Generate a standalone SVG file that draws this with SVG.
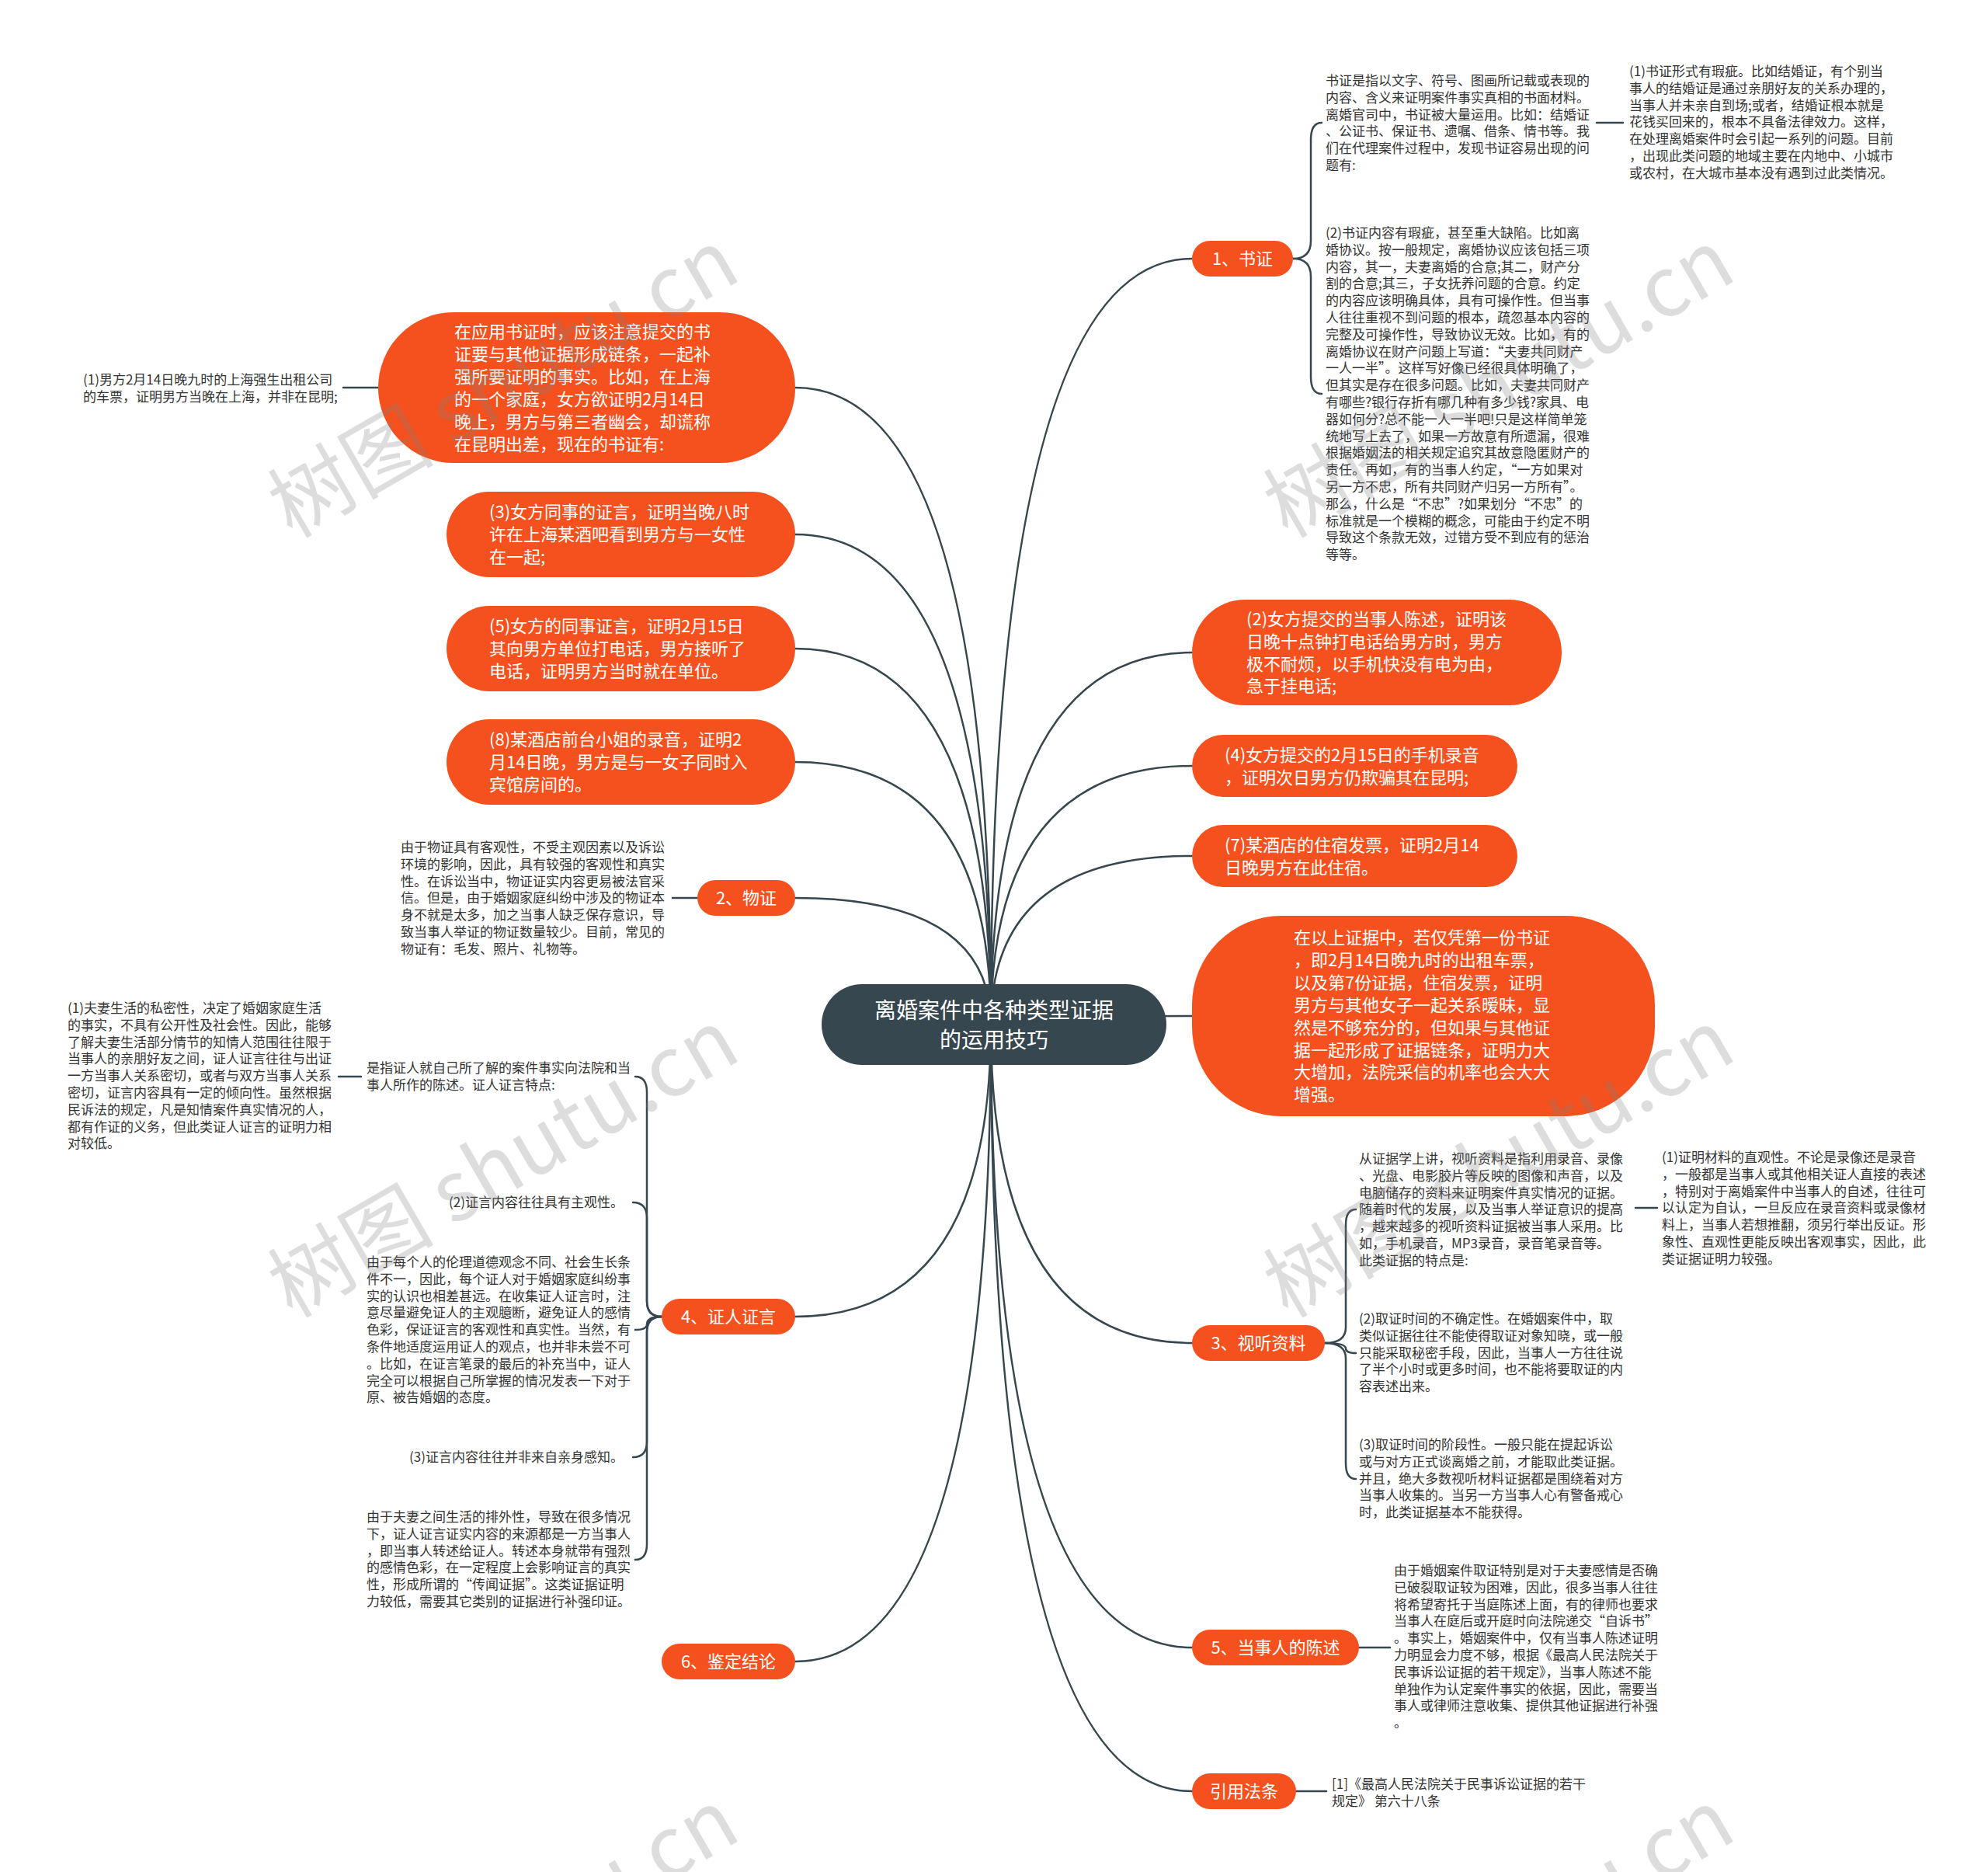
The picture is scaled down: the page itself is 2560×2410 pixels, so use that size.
<svg xmlns="http://www.w3.org/2000/svg" width="2560" height="2410" viewBox="0 0 2560 2410">
<defs>
<style>
.bg{fill:#ffffff}
.ln{fill:none;stroke:#37474f;stroke-width:2.5;stroke-linecap:round}
.nd{fill:#f4511e}
.ct{fill:#37474f}
.nt{font-family:"Noto Sans CJK SC","Noto Sans",sans-serif;font-size:22px;fill:#ffffff}
.ctt{font-family:"Noto Sans CJK SC","Noto Sans",sans-serif;font-size:28px;fill:#ffffff;text-anchor:middle}
.lt{font-family:"Noto Sans CJK SC","Noto Sans",sans-serif;font-size:17px;fill:#333333}
.wm{font-family:"Noto Sans CJK SC","Noto Sans",sans-serif;font-size:107px;fill:#808080;opacity:0.26}
.mid{text-anchor:middle}
.end{text-anchor:end}
</style>
</defs>
<rect class="bg" x="0" y="0" width="2560" height="2410"/>

<g id="connectors">
<path class="ln" d="M1276 1319 Q1276 333 1535 333"/>
<path class="ln" d="M1276 1319 Q1276 840 1535 840"/>
<path class="ln" d="M1276 1319 Q1276 986 1535 986"/>
<path class="ln" d="M1276 1319 Q1276 1102 1535 1102"/>
<path class="ln" d="M1276 1319 Q1276 1308 1535 1308"/>
<path class="ln" d="M1276 1319 Q1276 1729 1535 1729"/>
<path class="ln" d="M1276 1319 Q1276 2121 1535 2121"/>
<path class="ln" d="M1276 1319 Q1276 2306 1535 2306"/>
<path class="ln" d="M1276 1319 Q1276 499 1024 499"/>
<path class="ln" d="M1276 1319 Q1276 688 1024 688"/>
<path class="ln" d="M1276 1319 Q1276 835 1024 835"/>
<path class="ln" d="M1276 1319 Q1276 981 1024 981"/>
<path class="ln" d="M1276 1319 Q1276 1156 1024 1156"/>
<path class="ln" d="M1276 1319 Q1276 1695 1024 1695"/>
<path class="ln" d="M1276 1319 Q1276 2139 1024 2139"/>
<path class="ln" d="M1665 333 Q1688 333 1688 310 V180 Q1688 158 1702 158"/>
<path class="ln" d="M1665 333 Q1688 333 1688 356 V485 Q1688 507 1702 507"/>
<path class="ln" d="M2056 158 H2090"/>
<path class="ln" d="M487 499 H442"/>
<path class="ln" d="M898 1156 H866"/>
<path class="ln" d="M852 1695 Q833 1695 833 1675 V1406 Q833 1386 818 1386"/>
<path class="ln" d="M852 1695 Q833 1695 833 1675 V1568 Q833 1548 815 1548"/>
<path class="ln" d="M852 1695 Q833 1695 833 1705 Q833 1712 818 1712"/>
<path class="ln" d="M852 1695 Q833 1695 833 1715 V1856 Q833 1876 815 1876"/>
<path class="ln" d="M852 1695 Q833 1695 833 1715 V1988 Q833 2008 818 2008"/>
<path class="ln" d="M465 1386 H436"/>
<path class="ln" d="M1706 1729 Q1733 1729 1733 1709 V1577 Q1733 1557 1746 1557"/>
<path class="ln" d="M1706 1729 Q1733 1729 1733 1736 Q1733 1742 1746 1742"/>
<path class="ln" d="M1706 1729 Q1733 1729 1733 1749 V1884 Q1733 1904 1746 1904"/>
<path class="ln" d="M2106 1555 H2134"/>
<path class="ln" d="M1750 2121 H1790"/>
<path class="ln" d="M1669 2306 H1708"/>
</g>

<g id="center">
<rect class="ct" x="1058" y="1267" width="444" height="104" rx="52"/>
<text class="ctt" x="1280" y="1311">离婚案件中各种类型证据</text>
<text class="ctt" x="1280" y="1349">的运用技巧</text>
</g>

<g id="n-shuzheng">
<rect class="nd" x="1535" y="310" width="130" height="46" rx="23"/>
<text class="nt mid" x="1600" y="341">1、书证</text>
</g>
<g id="n-shuzheng-desc">
<text class="lt" x="1707" y="110">
<tspan x="1707" dy="0">书证是指以文字、符号、图画所记载或表现的</tspan>
<tspan x="1707" dy="21.8">内容、含义来证明案件事实真相的书面材料。</tspan>
<tspan x="1707" dy="21.8">离婚官司中，书证被大量运用。比如：结婚证</tspan>
<tspan x="1707" dy="21.8">、公证书、保证书、遗嘱、借条、情书等。我</tspan>
<tspan x="1707" dy="21.8">们在代理案件过程中，发现书证容易出现的问</tspan>
<tspan x="1707" dy="21.8">题有:</tspan>
</text>
</g>
<g id="n-shuzheng-1">
<text class="lt" x="2098" y="98">
<tspan x="2098" dy="0">(1)书证形式有瑕疵。比如结婚证，有个别当</tspan>
<tspan x="2098" dy="21.8">事人的结婚证是通过亲朋好友的关系办理的，</tspan>
<tspan x="2098" dy="21.8">当事人并未亲自到场;或者，结婚证根本就是</tspan>
<tspan x="2098" dy="21.8">花钱买回来的，根本不具备法律效力。这样，</tspan>
<tspan x="2098" dy="21.8">在处理离婚案件时会引起一系列的问题。目前</tspan>
<tspan x="2098" dy="21.8">，出现此类问题的地域主要在内地中、小城市</tspan>
<tspan x="2098" dy="21.8">或农村，在大城市基本没有遇到过此类情况。</tspan>
</text>
</g>
<g id="n-shuzheng-2">
<text class="lt" x="1707" y="306">
<tspan x="1707" dy="0">(2)书证内容有瑕疵，甚至重大缺陷。比如离</tspan>
<tspan x="1707" dy="21.8">婚协议。按一般规定，离婚协议应该包括三项</tspan>
<tspan x="1707" dy="21.8">内容，其一，夫妻离婚的合意;其二，财产分</tspan>
<tspan x="1707" dy="21.8">割的合意;其三，子女抚养问题的合意。约定</tspan>
<tspan x="1707" dy="21.8">的内容应该明确具体，具有可操作性。但当事</tspan>
<tspan x="1707" dy="21.8">人往往重视不到问题的根本，疏忽基本内容的</tspan>
<tspan x="1707" dy="21.8">完整及可操作性，导致协议无效。比如，有的</tspan>
<tspan x="1707" dy="21.8">离婚协议在财产问题上写道：“夫妻共同财产</tspan>
<tspan x="1707" dy="21.8">一人一半”。这样写好像已经很具体明确了，</tspan>
<tspan x="1707" dy="21.8">但其实是存在很多问题。比如，夫妻共同财产</tspan>
<tspan x="1707" dy="21.8">有哪些?银行存折有哪几种有多少钱?家具、电</tspan>
<tspan x="1707" dy="21.8">器如何分?总不能一人一半吧!只是这样简单笼</tspan>
<tspan x="1707" dy="21.8">统地写上去了，如果一方故意有所遗漏，很难</tspan>
<tspan x="1707" dy="21.8">根据婚姻法的相关规定追究其故意隐匿财产的</tspan>
<tspan x="1707" dy="21.8">责任。再如，有的当事人约定，“一方如果对</tspan>
<tspan x="1707" dy="21.8">另一方不忠，所有共同财产归另一方所有”。</tspan>
<tspan x="1707" dy="21.8">那么，什么是“不忠”?如果划分“不忠”的</tspan>
<tspan x="1707" dy="21.8">标准就是一个模糊的概念，可能由于约定不明</tspan>
<tspan x="1707" dy="21.8">导致这个条款无效，过错方受不到应有的惩治</tspan>
<tspan x="1707" dy="21.8">等等。</tspan>
</text>
</g>

<g id="n-r2">
<rect class="nd" x="1535" y="772" width="476" height="136" rx="68"/>
<text class="nt" x="1605" y="805">
<tspan x="1605" dy="0">(2)女方提交的当事人陈述，证明该</tspan>
<tspan x="1605" dy="28.8">日晚十点钟打电话给男方时，男方</tspan>
<tspan x="1605" dy="28.8">极不耐烦，以手机快没有电为由，</tspan>
<tspan x="1605" dy="28.8">急于挂电话;</tspan>
</text>
</g>
<g id="n-r4">
<rect class="nd" x="1535" y="946" width="419" height="80" rx="40"/>
<text class="nt" x="1577" y="979.5">
<tspan x="1577" dy="0">(4)女方提交的2月15日的手机录音</tspan>
<tspan x="1577" dy="29">，证明次日男方仍欺骗其在昆明;</tspan>
</text>
</g>
<g id="n-r7">
<rect class="nd" x="1535" y="1062" width="419" height="80" rx="40"/>
<text class="nt" x="1577" y="1095.5">
<tspan x="1577" dy="0">(7)某酒店的住宿发票，证明2月14</tspan>
<tspan x="1577" dy="29">日晚男方在此住宿。</tspan>
</text>
</g>
<g id="n-rbig">
<rect class="nd" x="1535" y="1179" width="596" height="258" rx="115"/>
<text class="nt" x="1666" y="1215">
<tspan x="1666" dy="0">在以上证据中，若仅凭第一份书证</tspan>
<tspan x="1666" dy="28.9">，即2月14日晚九时的出租车票，</tspan>
<tspan x="1666" dy="28.9">以及第7份证据，住宿发票，证明</tspan>
<tspan x="1666" dy="28.9">男方与其他女子一起关系暧昧，显</tspan>
<tspan x="1666" dy="28.9">然是不够充分的，但如果与其他证</tspan>
<tspan x="1666" dy="28.9">据一起形成了证据链条，证明力大</tspan>
<tspan x="1666" dy="28.9">大增加，法院采信的机率也会大大</tspan>
<tspan x="1666" dy="28.9">增强。</tspan>
</text>
</g>

<g id="n-shiting">
<rect class="nd" x="1535" y="1706" width="171" height="46" rx="23"/>
<text class="nt mid" x="1620.5" y="1737">3、视听资料</text>
</g>
<g id="n-shiting-desc">
<text class="lt" x="1750" y="1498">
<tspan x="1750" dy="0">从证据学上讲，视听资料是指利用录音、录像</tspan>
<tspan x="1750" dy="21.8">、光盘、电影胶片等反映的图像和声音，以及</tspan>
<tspan x="1750" dy="21.8">电脑储存的资料来证明案件真实情况的证据。</tspan>
<tspan x="1750" dy="21.8">随着时代的发展，以及当事人举证意识的提高</tspan>
<tspan x="1750" dy="21.8">，越来越多的视听资料证据被当事人采用。比</tspan>
<tspan x="1750" dy="21.8">如，手机录音，MP3录音，录音笔录音等。</tspan>
<tspan x="1750" dy="21.8">此类证据的特点是:</tspan>
</text>
</g>
<g id="n-shiting-1">
<text class="lt" x="2140" y="1496">
<tspan x="2140" dy="0">(1)证明材料的直观性。不论是录像还是录音</tspan>
<tspan x="2140" dy="21.8">，一般都是当事人或其他相关证人直接的表述</tspan>
<tspan x="2140" dy="21.8">，特别对于离婚案件中当事人的自述，往往可</tspan>
<tspan x="2140" dy="21.8">以认定为自认，一旦反应在录音资料或录像材</tspan>
<tspan x="2140" dy="21.8">料上，当事人若想推翻，须另行举出反证。形</tspan>
<tspan x="2140" dy="21.8">象性、直观性更能反映出客观事实，因此，此</tspan>
<tspan x="2140" dy="21.8">类证据证明力较强。</tspan>
</text>
</g>
<g id="n-shiting-2">
<text class="lt" x="1750" y="1704">
<tspan x="1750" dy="0">(2)取证时间的不确定性。在婚姻案件中，取</tspan>
<tspan x="1750" dy="21.8">类似证据往往不能使得取证对象知晓，或一般</tspan>
<tspan x="1750" dy="21.8">只能采取秘密手段，因此，当事人一方往往说</tspan>
<tspan x="1750" dy="21.8">了半个小时或更多时间，也不能将要取证的内</tspan>
<tspan x="1750" dy="21.8">容表述出来。</tspan>
</text>
</g>
<g id="n-shiting-3">
<text class="lt" x="1750" y="1866">
<tspan x="1750" dy="0">(3)取证时间的阶段性。一般只能在提起诉讼</tspan>
<tspan x="1750" dy="21.8">或与对方正式谈离婚之前，才能取此类证据。</tspan>
<tspan x="1750" dy="21.8">并且，绝大多数视听材料证据都是围绕着对方</tspan>
<tspan x="1750" dy="21.8">当事人收集的。当另一方当事人心有警备戒心</tspan>
<tspan x="1750" dy="21.8">时，此类证据基本不能获得。</tspan>
</text>
</g>

<g id="n-chenshu">
<rect class="nd" x="1535" y="2098" width="215" height="46" rx="23"/>
<text class="nt mid" x="1642.5" y="2129">5、当事人的陈述</text>
</g>
<g id="n-chenshu-desc">
<text class="lt" x="1795" y="2028">
<tspan x="1795" dy="0">由于婚姻案件取证特别是对于夫妻感情是否确</tspan>
<tspan x="1795" dy="21.8">已破裂取证较为困难，因此，很多当事人往往</tspan>
<tspan x="1795" dy="21.8">将希望寄托于当庭陈述上面，有的律师也要求</tspan>
<tspan x="1795" dy="21.8">当事人在庭后或开庭时向法院递交“自诉书”</tspan>
<tspan x="1795" dy="21.8">。事实上，婚姻案件中，仅有当事人陈述证明</tspan>
<tspan x="1795" dy="21.8">力明显会力度不够，根据《最高人民法院关于</tspan>
<tspan x="1795" dy="21.8">民事诉讼证据的若干规定》，当事人陈述不能</tspan>
<tspan x="1795" dy="21.8">单独作为认定案件事实的依据，因此，需要当</tspan>
<tspan x="1795" dy="21.8">事人或律师注意收集、提供其他证据进行补强</tspan>
<tspan x="1795" dy="21.8">。</tspan>
</text>
</g>

<g id="n-fatiao">
<rect class="nd" x="1535" y="2283" width="134" height="46" rx="23"/>
<text class="nt mid" x="1602" y="2314">引用法条</text>
</g>
<g id="n-fatiao-desc">
<text class="lt" x="1715" y="2303">
<tspan x="1715" dy="0">[1]《最高人民法院关于民事诉讼证据的若干</tspan>
<tspan x="1715" dy="21.8">规定》 第六十八条</tspan>
</text>
</g>

<g id="n-lbig">
<rect class="nd" x="487" y="402" width="537" height="194" rx="97"/>
<text class="nt" x="585" y="434.5">
<tspan x="585" dy="0">在应用书证时，应该注意提交的书</tspan>
<tspan x="585" dy="29">证要与其他证据形成链条，一起补</tspan>
<tspan x="585" dy="29">强所要证明的事实。比如，在上海</tspan>
<tspan x="585" dy="29">的一个家庭，女方欲证明2月14日</tspan>
<tspan x="585" dy="29">晚上，男方与第三者幽会，却谎称</tspan>
<tspan x="585" dy="29">在昆明出差，现在的书证有:</tspan>
</text>
</g>
<g id="n-lbig-1">
<text class="lt" x="107" y="495">
<tspan x="107" dy="0">(1)男方2月14日晚九时的上海强生出租公司</tspan>
<tspan x="107" dy="21.8">的车票，证明男方当晚在上海，并非在昆明;</tspan>
</text>
</g>
<g id="n-l3">
<rect class="nd" x="575" y="633" width="449" height="110" rx="55"/>
<text class="nt" x="630" y="667">
<tspan x="630" dy="0">(3)女方同事的证言，证明当晚八时</tspan>
<tspan x="630" dy="29">许在上海某酒吧看到男方与一女性</tspan>
<tspan x="630" dy="29">在一起;</tspan>
</text>
</g>
<g id="n-l5">
<rect class="nd" x="575" y="780" width="449" height="110" rx="55"/>
<text class="nt" x="630" y="814">
<tspan x="630" dy="0">(5)女方的同事证言，证明2月15日</tspan>
<tspan x="630" dy="29">其向男方单位打电话，男方接听了</tspan>
<tspan x="630" dy="29">电话，证明男方当时就在单位。</tspan>
</text>
</g>
<g id="n-l8">
<rect class="nd" x="575" y="926" width="449" height="110" rx="55"/>
<text class="nt" x="630" y="960">
<tspan x="630" dy="0">(8)某酒店前台小姐的录音，证明2</tspan>
<tspan x="630" dy="29">月14日晚，男方是与一女子同时入</tspan>
<tspan x="630" dy="29">宾馆房间的。</tspan>
</text>
</g>

<g id="n-wuzheng">
<rect class="nd" x="898" y="1133" width="126" height="46" rx="23"/>
<text class="nt mid" x="961" y="1164">2、物证</text>
</g>
<g id="n-wuzheng-desc">
<text class="lt" x="516" y="1097">
<tspan x="516" dy="0">由于物证具有客观性，不受主观因素以及诉讼</tspan>
<tspan x="516" dy="21.8">环境的影响，因此，具有较强的客观性和真实</tspan>
<tspan x="516" dy="21.8">性。在诉讼当中，物证证实内容更易被法官采</tspan>
<tspan x="516" dy="21.8">信。但是，由于婚姻家庭纠纷中涉及的物证本</tspan>
<tspan x="516" dy="21.8">身不就是太多，加之当事人缺乏保存意识，导</tspan>
<tspan x="516" dy="21.8">致当事人举证的物证数量较少。目前，常见的</tspan>
<tspan x="516" dy="21.8">物证有：毛发、照片、礼物等。</tspan>
</text>
</g>

<g id="n-zhengren">
<rect class="nd" x="852" y="1672" width="172" height="46" rx="23"/>
<text class="nt mid" x="938" y="1703">4、证人证言</text>
</g>
<g id="n-zhengren-desc">
<text class="lt" x="472" y="1381">
<tspan x="472" dy="0">是指证人就自己所了解的案件事实向法院和当</tspan>
<tspan x="472" dy="21.8">事人所作的陈述。证人证言特点:</tspan>
</text>
</g>
<g id="n-zhengren-desc-1">
<text class="lt" x="87" y="1304">
<tspan x="87" dy="0">(1)夫妻生活的私密性，决定了婚姻家庭生活</tspan>
<tspan x="87" dy="21.8">的事实，不具有公开性及社会性。因此，能够</tspan>
<tspan x="87" dy="21.8">了解夫妻生活部分情节的知情人范围往往限于</tspan>
<tspan x="87" dy="21.8">当事人的亲朋好友之间，证人证言往往与出证</tspan>
<tspan x="87" dy="21.8">一方当事人关系密切，或者与双方当事人关系</tspan>
<tspan x="87" dy="21.8">密切，证言内容具有一定的倾向性。虽然根据</tspan>
<tspan x="87" dy="21.8">民诉法的规定，凡是知情案件真实情况的人，</tspan>
<tspan x="87" dy="21.8">都有作证的义务，但此类证人证言的证明力相</tspan>
<tspan x="87" dy="21.8">对较低。</tspan>
</text>
</g>
<g id="n-zhengren-2">
<text class="lt end" x="803" y="1554">(2)证言内容往往具有主观性。</text>
</g>
<g id="n-zhengren-2b">
<text class="lt" x="472" y="1631">
<tspan x="472" dy="0">由于每个人的伦理道德观念不同、社会生长条</tspan>
<tspan x="472" dy="21.8">件不一，因此，每个证人对于婚姻家庭纠纷事</tspan>
<tspan x="472" dy="21.8">实的认识也相差甚远。在收集证人证言时，注</tspan>
<tspan x="472" dy="21.8">意尽量避免证人的主观臆断，避免证人的感情</tspan>
<tspan x="472" dy="21.8">色彩，保证证言的客观性和真实性。当然，有</tspan>
<tspan x="472" dy="21.8">条件地适度运用证人的观点，也并非未尝不可</tspan>
<tspan x="472" dy="21.8">。比如，在证言笔录的最后的补充当中，证人</tspan>
<tspan x="472" dy="21.8">完全可以根据自己所掌握的情况发表一下对于</tspan>
<tspan x="472" dy="21.8">原、被告婚姻的态度。</tspan>
</text>
</g>
<g id="n-zhengren-3">
<text class="lt end" x="803" y="1882">(3)证言内容往往并非来自亲身感知。</text>
</g>
<g id="n-zhengren-3b">
<text class="lt" x="472" y="1959">
<tspan x="472" dy="0">由于夫妻之间生活的排外性，导致在很多情况</tspan>
<tspan x="472" dy="21.8">下，证人证言证实内容的来源都是一方当事人</tspan>
<tspan x="472" dy="21.8">，即当事人转述给证人。转述本身就带有强烈</tspan>
<tspan x="472" dy="21.8">的感情色彩，在一定程度上会影响证言的真实</tspan>
<tspan x="472" dy="21.8">性，形成所谓的“传闻证据”。这类证据证明</tspan>
<tspan x="472" dy="21.8">力较低，需要其它类别的证据进行补强印证。</tspan>
</text>
</g>

<g id="n-jianding">
<rect class="nd" x="852" y="2116" width="172" height="46" rx="23"/>
<text class="nt mid" x="938" y="2147">6、鉴定结论</text>
</g>

<g id="watermarks">
<text class="wm" transform="translate(376 694) rotate(-30)">树图 shutu.cn</text>
<text class="wm" transform="translate(1658 694) rotate(-30)">树图 shutu.cn</text>
<text class="wm" transform="translate(376 1698) rotate(-30)">树图 shutu.cn</text>
<text class="wm" transform="translate(1658 1698) rotate(-30)">树图 shutu.cn</text>
<text class="wm" transform="translate(376 2702) rotate(-30)">树图 shutu.cn</text>
<text class="wm" transform="translate(1658 2702) rotate(-30)">树图 shutu.cn</text>
</g>
</svg>
